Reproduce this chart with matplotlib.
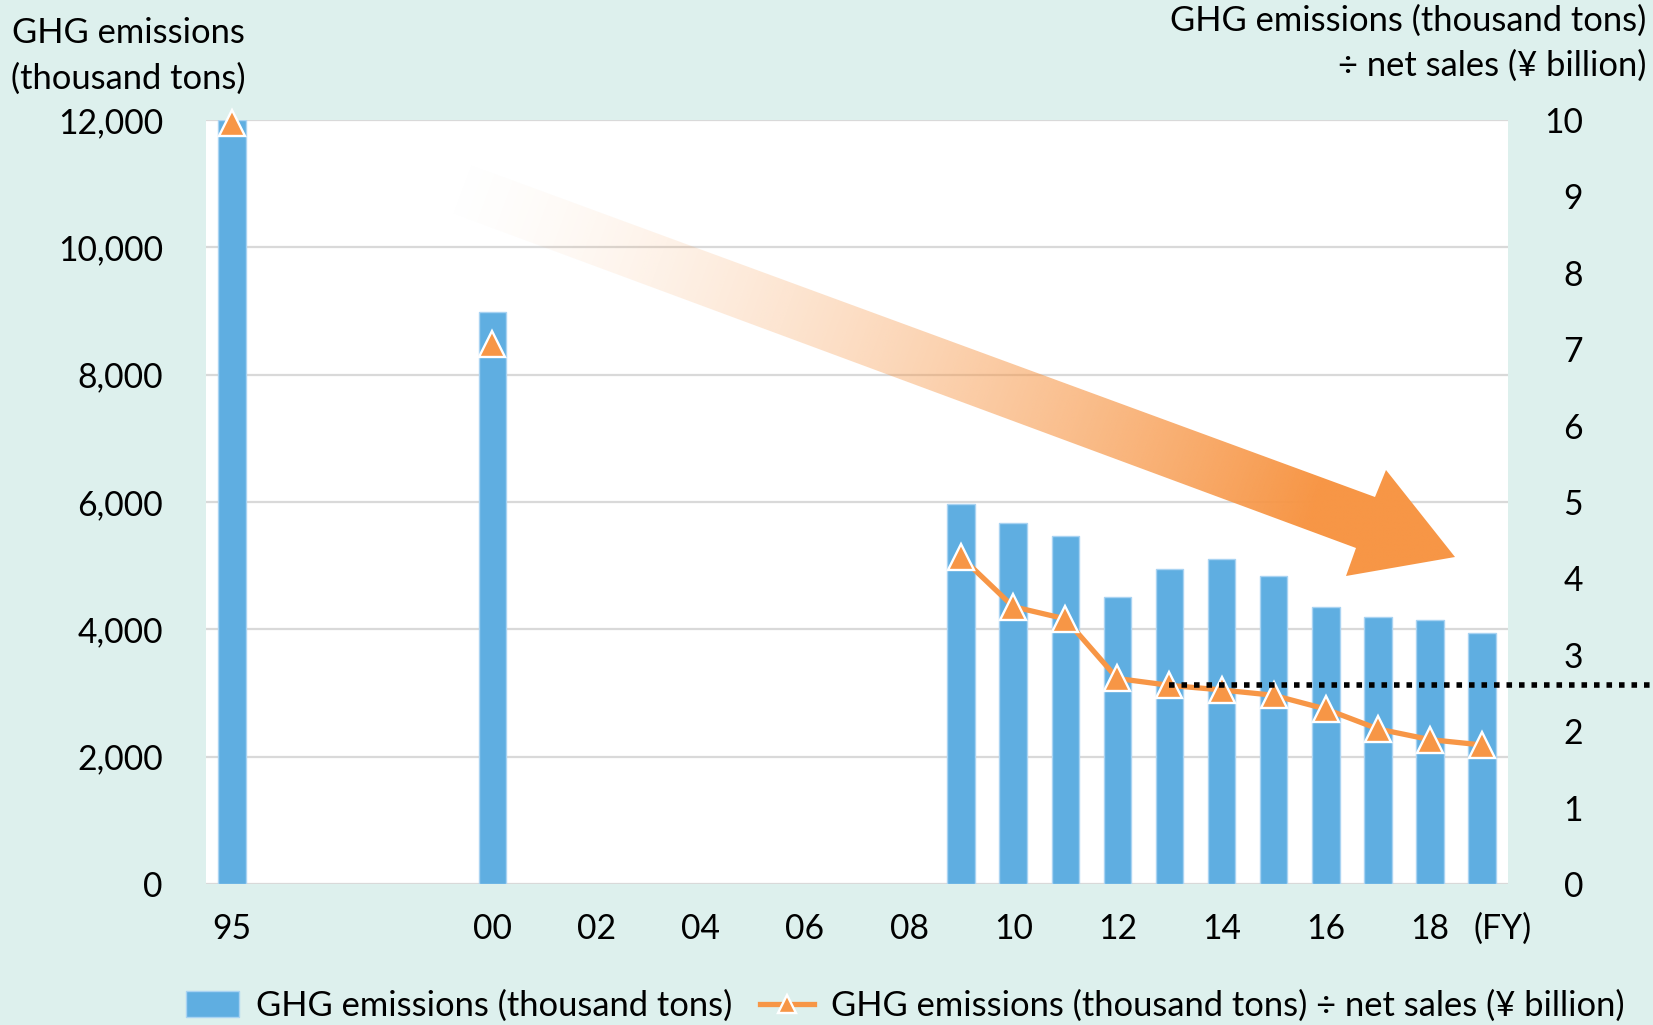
import numpy as np
import pandas as pd
import matplotlib
matplotlib.use('Agg')
import matplotlib.pyplot as plt
from matplotlib.patches import Polygon
from matplotlib.ticker import FuncFormatter

plt.rcParams['font.family'] = ['Lato', 'DejaVu Sans']

# data (fiscal years)
years = [1995, 2000, 2009, 2010, 2011, 2012, 2013, 2014, 2015, 2016, 2017, 2018, 2019]
emissions = [12000, 8990, 5970, 5670, 5470, 4510, 4940, 5110, 4830, 4350, 4200, 4150, 3950]
intensity = [9.96, 7.07, 4.28, 3.63, 3.47, 2.69, 2.60, 2.54, 2.47, 2.29, 2.03, 1.89, 1.82]
xtick_years = [1995, 2000, 2002, 2004, 2006, 2008, 2010, 2012, 2014, 2016, 2018]
xtick_labels = ['95', '00', '02', '04', '06', '08', '10', '12', '14', '16', '18']
ref_year = 2013

BG = '#DDF0ED'
BLUE = '#5FAEE1'
ORANGE = '#F79646'
FS = 24.8      # titles / legend
FS_TICK = 24.2

W, H = 1653, 1025
fig = plt.figure(figsize=(W / 100, H / 100), dpi=100, facecolor=BG)
ax = fig.add_axes([206 / W, 1 - 884 / H, (1508 - 206) / W, (884 - 120) / H])
ax.set_facecolor('white')

ax.bar(years, emissions, width=0.53, color=BLUE, edgecolor='#A9D3F2', linewidth=1,
       zorder=3, label='GHG emissions (thousand tons)')
ax.set_xlim(1994.5, 2019.5)
ax.set_ylim(0, 12000)
ax.set_yticks(range(0, 12001, 2000))
ax.yaxis.set_major_formatter(FuncFormatter(lambda v, p: f'{int(v):,}'))
ax.grid(axis='y', color='#D9D9D9', linewidth=1.6, zorder=0)
ax.set_axisbelow(True)
for s in ax.spines.values():
    s.set_visible(False)
ax.set_xticks(xtick_years)
ax.set_xticklabels(xtick_labels)
ax.tick_params(axis='both', length=0, labelsize=FS_TICK)
ax.tick_params(axis='y', pad=31)
ax.tick_params(axis='x', pad=21)

# intensity line, gaps where years are missing
s = pd.Series(intensity, index=years).reindex(range(1995, 2020))
ax2 = ax.twinx()
ax2.plot(s.index, s.values, color=ORANGE, linewidth=3.8, marker='^', markersize=19,
         markerfacecolor=ORANGE, markeredgecolor='white', markeredgewidth=1.7,
         clip_on=False, zorder=4,
         label='GHG emissions (thousand tons) ÷ net sales (¥ billion)')
ax2.set_ylim(0, 10)
ax2.set_yticks(range(0, 11))
for sp in ax2.spines.values():
    sp.set_visible(False)
ax2.tick_params(axis='y', length=0, labelsize=FS_TICK, pad=54)
for t in ax2.get_yticklabels():
    t.set_horizontalalignment('right')

# dotted reference at FY2013 level, running off to the right edge
v13 = s.loc[ref_year]
ax2.plot([ref_year, 2022.4], [v13, v13], color='black', linewidth=4.0,
         linestyle=(0, (1, 1.25)), clip_on=False, zorder=5)

ax.text(2019.4, -0.058, '(FY)', transform=ax.get_xaxis_transform(), ha='center',
        va='center', fontsize=FS_TICK)

fig.text(128 / W, 1 - 56 / H, 'GHG emissions\n(thousand tons)', ha='center', va='center',
         fontsize=FS, linespacing=1.5)
fig.text(1646 / W, 1 - 43 / H, 'GHG emissions (thousand tons)\n÷ net sales (¥ billion)',
         ha='right', va='center', fontsize=FS, linespacing=1.5)

h1, l1 = ax.get_legend_handles_labels()
h2, l2 = ax2.get_legend_handles_labels()
fig.legend(h1 + h2, l1 + l2, loc='center', bbox_to_anchor=(905 / W, 1 - 1006 / H),
           ncol=2, frameon=False, fontsize=FS, handlelength=1.55, handleheight=0.8,
           handletextpad=0.5, columnspacing=0.8, borderpad=0, markerscale=0.65)

# big gradient arrow, drawn in figure pixel coordinates
ov = fig.add_axes([0, 0, 1, 1], facecolor='none')
ov.axis('off')
pts = [(449, 157), (1375, 497), (1386, 470), (1455, 557), (1346, 576), (1356, 548), (430, 205)]
arrow = Polygon(pts, closed=True, facecolor='none', edgecolor='none')
ov.add_patch(arrow)
x0, x1, y0, y1 = 420, 1465, 145, 585
gx, gy = np.meshgrid(np.linspace(x0, x1, 600), np.linspace(y0, y1, 260))
tail = np.array([439.5, 181.0])
tip = np.array([1455.0, 557.0])
d = tip - tail
t = ((gx - tail[0]) * d[0] + (gy - tail[1]) * d[1]) / (d @ d)
alpha = np.clip(t / 0.86, 0, 1) ** 1.5
rgba = np.zeros(gx.shape + (4,))
rgba[..., 0] = 247 / 255
rgba[..., 1] = 150 / 255
rgba[..., 2] = 70 / 255
rgba[..., 3] = alpha
im = ov.imshow(rgba, extent=(x0, x1, y1, y0), origin='upper', aspect='auto', interpolation='bilinear')
im.set_clip_path(arrow)
ov.set_xlim(0, W)
ov.set_ylim(H, 0)

plt.savefig('out.png', dpi=100, facecolor=BG)
